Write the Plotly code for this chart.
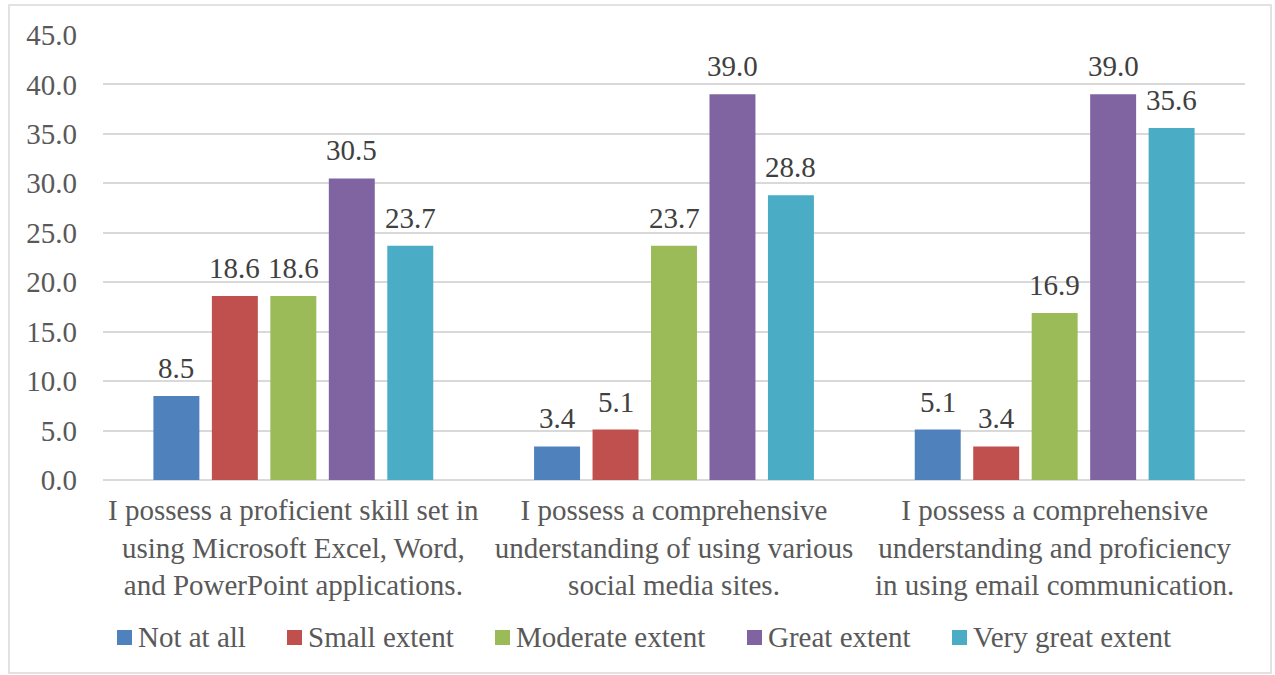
import plotly.graph_objects as go

categories = [
    "I possess a proficient skill set in<br>using Microsoft Excel, Word,<br>and PowerPoint applications.",
    "I possess a comprehensive<br>understanding of using various<br>social media sites.",
    "I possess a comprehensive<br>understanding and proficiency<br>in using email communication.",
]
series_names = ["Not at all", "Small extent", "Moderate extent", "Great extent", "Very great extent"]
not_at_all = [8.5, 3.4, 5.1]
small_extent = [18.6, 5.1, 3.4]
moderate_extent = [18.6, 23.7, 16.9]
great_extent = [30.5, 39.0, 39.0]
very_great_extent = [23.7, 28.8, 35.6]
colors = ["#4f81bd", "#c0504d", "#9bbb59", "#8064a2", "#4bacc6"]
y_ticks = [0, 5, 10, 15, 20, 25, 30, 35, 40, 45]

FONT = "Liberation Serif, Times New Roman, serif"
W, H = 1275, 675
ML, MR, MT, MB = 103, 30, 35, 195
PW, PH = W - ML - MR, H - MT - MB
BARGAP, BARGROUPGAP = 0.232, 0.214
N_SERIES = len(series_names)
SLOT_PX = PW / len(categories) * (1 - BARGAP) / N_SERIES


def px_x(px):
    return (px - ML) / PW


def px_y(py):
    return (H - MB - py) / PH


all_series = [not_at_all, small_extent, moderate_extent, great_extent, very_great_extent]

fig = go.Figure()
annotations = []
for i, (name, vals, col) in enumerate(zip(series_names, all_series, colors)):
    fig.add_trace(go.Bar(
        x=categories, y=vals, name=name,
        marker=dict(color=col, line=dict(width=0)),
    ))
    # value labels sit above each bar, shifted to that bar's slot in the group
    for cat, v in zip(categories, vals):
        annotations.append(dict(
            x=cat, y=v, xref="x", yref="y", text=f"{v:.1f}", showarrow=False,
            xanchor="center", yanchor="bottom",
            xshift=(i - (N_SERIES - 1) / 2) * SLOT_PX, yshift=10,
            font=dict(family=FONT, size=29, color="#404040"),
        ))

# Legend row below the category labels (Excel-like spacing)
legend_left = [117, 287, 495, 747, 952]
shapes = [dict(type="rect", xref="paper", yref="paper",
               x0=px_x(9), x1=px_x(1271), y0=px_y(673), y1=px_y(5),
               line=dict(color="#d9d9d9", width=1.5), fillcolor="rgba(0,0,0,0)", layer="below")]
for name, col, lx in zip(series_names, colors, legend_left):
    shapes.append(dict(type="rect", xref="paper", yref="paper",
                       x0=px_x(lx), x1=px_x(lx + 15), y0=px_y(645), y1=px_y(630),
                       line=dict(width=0), fillcolor=col))
    annotations.append(dict(xref="paper", yref="paper", x=px_x(lx + 19), y=px_y(637),
                            xanchor="left", yanchor="middle", showarrow=False, text=name,
                            font=dict(family=FONT, size=29, color="#595959")))

fig.update_layout(
    width=W, height=H,
    paper_bgcolor="white", plot_bgcolor="white",
    margin=dict(l=ML, r=MR, t=MT, b=MB),
    barmode="group", bargap=BARGAP, bargroupgap=BARGROUPGAP,
    font=dict(family=FONT, color="#595959"),
    showlegend=False,
    shapes=shapes, annotations=annotations,
)
fig.update_yaxes(range=[0, 45], tickvals=y_ticks, ticktext=[f"{v:.1f}" for v in y_ticks],
                 showgrid=True, gridcolor="#d9d9d9", gridwidth=1.5,
                 zeroline=True, zerolinecolor="#d9d9d9", zerolinewidth=1.5,
                 tickfont=dict(family=FONT, size=29, color="#595959"),
                 ticks="", ticklabelstandoff=25, showline=False)
fig.update_xaxes(tickfont=dict(family=FONT, size=29, color="#595959"),
                 showline=False, ticks="", ticklabelstandoff=10)

fig.write_html("out.html")
